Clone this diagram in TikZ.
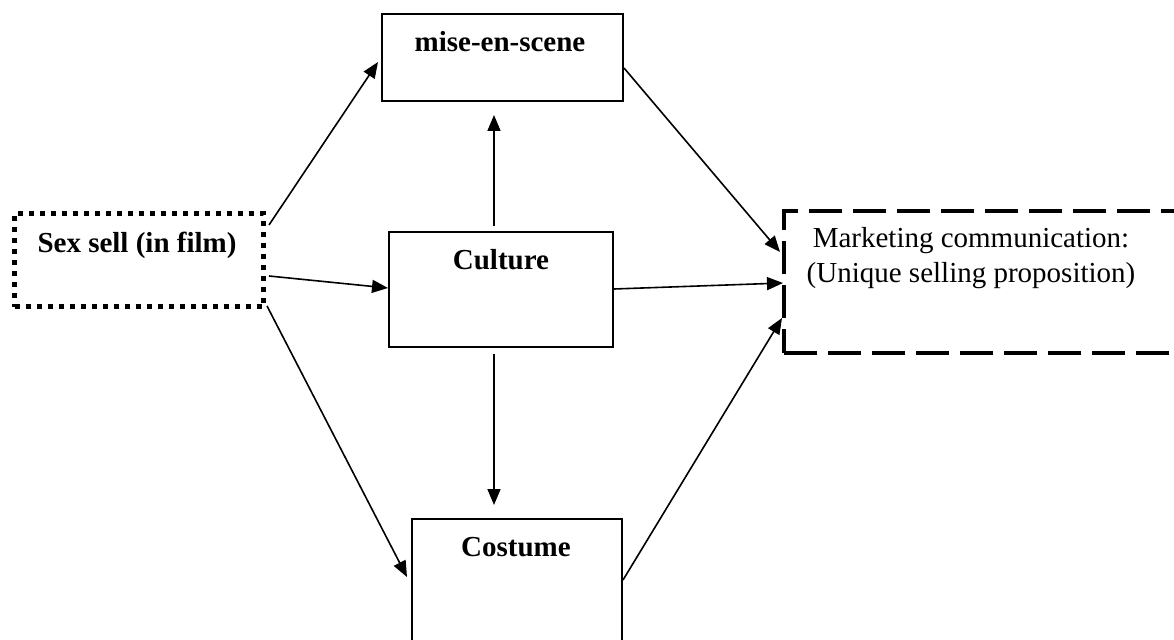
\documentclass[tikz,border=0pt]{standalone}
\usepackage{fontspec}
\setmainfont{Liberation Serif}
\usetikzlibrary{arrows.meta,calc}
\begin{document}
\begin{tikzpicture}[x=1bp,y=-1bp,
  box/.style={draw,line width=2bp,rectangle,inner sep=0pt,anchor=north west},
  dotbox/.style={draw,line width=5bp,dash pattern=on 5bp off 6bp,rectangle,inner sep=0pt,anchor=north west},
  dashbox/.style={draw,line width=4bp,dash pattern=on 33bp off 11bp,rectangle,inner sep=0pt,anchor=north west},
  lbl/.style={font=\fontsize{29bp}{35bp}\selectfont\bfseries,inner sep=0pt},
  lblr/.style={font=\fontsize{29bp}{35bp}\selectfont,inner sep=0pt,align=center},
  arr/.style={line width=1.6bp,-{Triangle[length=16bp,width=13bp]}}]
\clip (0,0) rectangle (1174,640);
\fill[white] (0,0) rectangle (1174,640);
% boxes
\node[box,minimum width=241bp,minimum height=87bp] (mise) at (381,13) {};
\node[dotbox,minimum width=249bp,minimum height=93bp] (sex) at (12,211) {};
\node[box,minimum width=224bp,minimum height=115bp] (cult) at (388,231) {};
\node[dashbox,minimum width=420bp,minimum height=142bp] (mkt) at (782,209) {};
\node[box,minimum width=210bp,minimum height=150bp] (cost) at (411,518) {};
% labels
\node[lbl] (misel) at (500,42) {mise-en-scene};
\node[lbl] (sexl) at (137,245) {Sex sell (in film)};
\node[lbl] (cultl) at (501,260) {Culture};
\node[lbl] (costl) at (516,547) {Costume};
\node[lblr] (mktl) at (971,258) {Marketing communication:\\(Unique selling proposition)};
% arrows
\draw[arr] ($(sex.north east)+(3,14)$) -- ($(mise.north west)+(-3,49)$);
\draw[arr] ($(sex.north east)+(3,65)$) -- ($(cult.north west)+(0,57)$);
\draw[arr] ($(sex.north east)+(1,95)$) -- ($(cost.north west)+(-4,59)$);
\draw[arr] ($(mise.north east)+(0,55)$) -- ($(mkt.north west)+(-2,43)$);
\draw[arr] ($(cult.north east)+(0,58)$) -- ($(mkt.north west)+(1,74)$);
\draw[arr] ($(cost.north east)+(0,62)$) -- ($(mkt.north west)+(0,109)$);
\draw[arr] ($(cult.north west)+(106,-5)$) -- ($(mise.south west)+(113,13)$);
\draw[arr] ($(cult.south west)+(106,6)$) -- ($(cost.north west)+(83,-13)$);
\end{tikzpicture}
\end{document}
